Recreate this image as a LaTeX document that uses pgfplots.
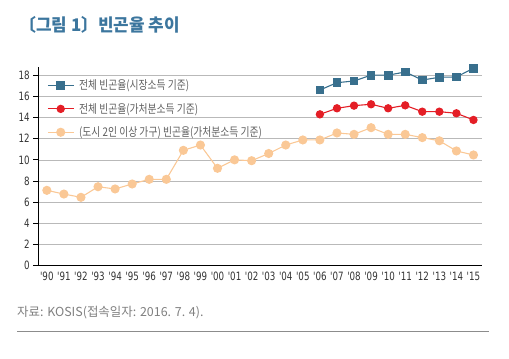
\documentclass[border=0pt]{standalone}
\usepackage{fontspec}
\usepackage{pgfplots}
\pgfplotsset{compat=1.18}
\newfontfamily\krfont[FakeStretch=0.82]{Noto Sans CJK KR}
\newfontfamily\krnote{Noto Sans CJK KR}
\newfontfamily\krtitle[FakeStretch=0.97]{Noto Sans CJK KR}
\newfontfamily\tickfont[FakeStretch=0.76]{DejaVu Sans}
\definecolor{cblue}{RGB}{56,111,141}
\definecolor{cred}{RGB}{228,30,38}
\definecolor{corange}{RGB}{250,200,150}
\definecolor{ctitle}{RGB}{60,118,158}
\definecolor{cgrid}{RGB}{185,185,185}
\definecolor{ctext}{RGB}{95,95,95}
\begin{document}
\begin{tikzpicture}[x=1bp,y=1bp]
\path[use as bounding box] (0,0) rectangle (509,358);
\node[anchor=west,inner sep=0pt,text=ctitle] at (19,333) {\krtitle\bfseries\fontsize{17.5}{17.5}\selectfont 〔그림 1〕빈곤율 추이};
\begin{axis}[
  at={(38.3bp,92.3bp)}, anchor=south west,
  scale only axis, width=443.7bp, height=199bp,
  xmin=-0.5, xmax=25.5, ymin=0, ymax=18.8,
  axis x line*=bottom, axis y line*=left,
  axis line style={black, line width=0.9pt},
  xtick={0,...,25},
  xticklabels={'90,'91,'92,'93,'94,'95,'96,'97,'98,'99,'00,'01,'02,'03,'04,'05,'06,'07,'08,'09,'10,'11,'12,'13,'14,'15},
  minor xtick={-0.5,0.5,...,25.5},
  ytick={0,2,...,18},
  ymajorgrids, major grid style={cgrid, line width=0.7pt},
  tick align=outside,
  x tick style={draw=none},
  minor x tick style={black, line width=0.8pt},
  minor tick length=5bp,
  y tick style={black, line width=0.8pt},
  major tick length=5bp,
  tick label style={font=\tickfont\fontsize{11.5}{11.5}\selectfont, text=black!80},
  /pgf/number format/assume math mode=true,
  xticklabel style={yshift=0bp, inner sep=1bp},
  yticklabel style={xshift=0bp},
  legend style={at={(0.02,0.945)}, anchor=north west, draw=none, fill=none,
    font=\krfont\fontsize{12}{12}\selectfont, text=ctext, row sep=8bp,
    column sep=3bp, inner sep=0pt},
  legend cell align=left,
  legend image code/.code={\draw[mark repeat=2,mark phase=2] plot coordinates {(0bp,0bp) (12.8bp,0bp) (25.6bp,0bp)};},
]
\addplot[cblue, line width=1.1pt, mark=square*, mark size=3.8bp, mark options={solid, fill=cblue, draw=cblue}]
coordinates {(16,16.6) (17,17.29) (18,17.45) (19,18.0) (20,18.0) (21,18.3) (22,17.54) (23,17.8) (24,17.83) (25,18.65)};
\addlegendentry{전체 빈곤율(시장소득 기준)}
\addplot[cred, line width=1.1pt, mark=*, mark size=3.6bp, mark options={solid, fill=cred, draw=cred}]
coordinates {(16,14.3) (17,14.87) (18,15.12) (19,15.25) (20,14.87) (21,15.15) (22,14.55) (23,14.55) (24,14.4) (25,13.77)};
\addlegendentry{전체 빈곤율(가처분소득 기준)}
\addplot[corange, line width=1.1pt, mark=*, mark size=4bp, mark options={solid, fill=corange, draw=corange}]
coordinates {(0,7.12) (1,6.77) (2,6.46) (3,7.46) (4,7.25) (5,7.72) (6,8.16) (7,8.16) (8,10.9) (9,11.4) (10,9.2) (11,10.0) (12,9.92) (13,10.6) (14,11.4) (15,11.88) (16,11.88) (17,12.54) (18,12.41) (19,13.04) (20,12.41) (21,12.41) (22,12.1) (23,11.8) (24,10.84) (25,10.46)};
\addlegendentry{(도시 2인 이상 가구) 빈곤율(가처분소득 기준)}
\end{axis}
\node[anchor=west,inner sep=0pt,text=black!50] at (17,45) {\krnote\fontsize{12.5}{12.5}\selectfont 자료: KOSIS(접속일자: 2016. 7. 4).};
\draw[black!45, line width=0.8pt] (17,27) -- (489,27);
\end{tikzpicture}
\end{document}
